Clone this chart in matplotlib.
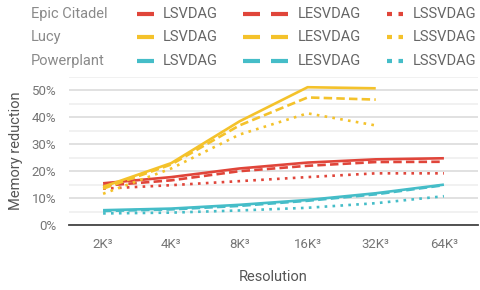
import numpy as np
import matplotlib
matplotlib.use("Agg")
from matplotlib import pyplot as plt
from matplotlib.lines import Line2D
from matplotlib.ticker import FuncFormatter, MultipleLocator

plt.rcParams['font.family'] = ['Roboto', 'DejaVu Sans']

# data
resolutions = ["2K³", "4K³", "8K³", "16K³", "32K³", "64K³"]
scenes = ["Epic Citadel", "Lucy", "Powerplant"]
methods = ["LSVDAG", "LESVDAG", "LSSVDAG"]

citadel_lsvdag = [15.5, 17.8, 21.0, 23.2, 24.4, 24.8]
citadel_lesvdag = [14.6, 16.6, 20.0, 22.0, 23.4, 23.5]
citadel_lssvdag = [13.5, 14.8, 16.3, 17.8, 19.2, 19.2]

lucy_lsvdag = [14.2, 23.0, 38.5, 51.2, 50.8]
lucy_lesvdag = [13.5, 22.5, 37.0, 47.4, 46.6]
lucy_lssvdag = [11.6, 21.0, 33.6, 41.5, 37.0]

plant_lsvdag = [5.5, 6.1, 7.5, 9.3, 11.8, 15.0]
plant_lesvdag = [5.2, 5.8, 7.1, 9.0, 11.4, 14.8]
plant_lssvdag = [4.3, 4.6, 5.4, 6.4, 8.1, 10.7]

colors = ["#E0453A", "#F4C22B", "#45BDC8"]
styles = ["-", (0, (3.2, 1.6)), (0, (1, 2))]

series = [
    [citadel_lsvdag, citadel_lesvdag, citadel_lssvdag],
    [lucy_lsvdag, lucy_lesvdag, lucy_lssvdag],
    [plant_lsvdag, plant_lesvdag, plant_lssvdag],
]

fig = plt.figure(figsize=(4.81, 2.90), dpi=100)
ax = fig.add_axes([69 / 481, 1 - 225 / 290, 409 / 481, 148 / 290])

x = np.arange(len(resolutions))
for color, scene_series in zip(colors, series):
    for style, vals in zip(styles, scene_series):
        ax.plot(x[:len(vals)], vals, color=color, linestyle=style, lw=1.9,
                solid_capstyle='butt', dash_capstyle='butt')

ax.set_xlim(-0.5, len(resolutions) - 0.5)
ax.set_ylim(0, 55)
ax.set_xticks(x)
ax.set_xticklabels(resolutions)
ax.yaxis.set_major_locator(MultipleLocator(10))
ax.yaxis.set_minor_locator(MultipleLocator(5))
ax.yaxis.set_major_formatter(FuncFormatter(lambda v, p: "%d%%" % v))
ax.grid(axis='y', which='major', color='#d9d9d9', lw=1.1)
ax.grid(axis='y', which='minor', color='#ededed', lw=1.1)
ax.set_axisbelow(True)
for s in ['top', 'right', 'left']:
    ax.spines[s].set_visible(False)
ax.spines['bottom'].set_color('#444444')
ax.spines['bottom'].set_linewidth(1.3)
ax.tick_params(axis='both', which='both', length=0, labelsize=9.5, colors='#757575')
ax.tick_params(axis='x', pad=9)
ax.tick_params(axis='y', pad=9)
ax.set_xlabel("Resolution", fontsize=10.5, color='#555555', labelpad=14)
ax.set_ylabel("Memory reduction", fontsize=10.5, color='#555555', labelpad=6)

# legend drawn as a table: one row per scene, one column per method
W, H = 481, 290
row_y = [14, 37, 61]
handle_x = [(137, 154), (243, 288), (387, 403)]
handle_ls = ['-', (0, (4.08, 2.64)), (0, (1.2, 1.56))]
label_x = [163, 298, 413]
for r, scene in enumerate(scenes):
    fy = 1 - row_y[r] / H
    fig.text(31 / W, fy, scene, fontsize=10.5, color='#8a8a8a', va='center', ha='left')
    for c, method in enumerate(methods):
        x0, x1 = handle_x[c]
        fig.add_artist(Line2D([x0 / W, x1 / W], [fy, fy], color=colors[r], lw=3,
                              linestyle=handle_ls[c], solid_capstyle='butt',
                              dash_capstyle='butt'))
        fig.text(label_x[c] / W, fy, method, fontsize=10.5, color='#666666',
                 va='center', ha='left')

fig.savefig("out.png", dpi=100)
